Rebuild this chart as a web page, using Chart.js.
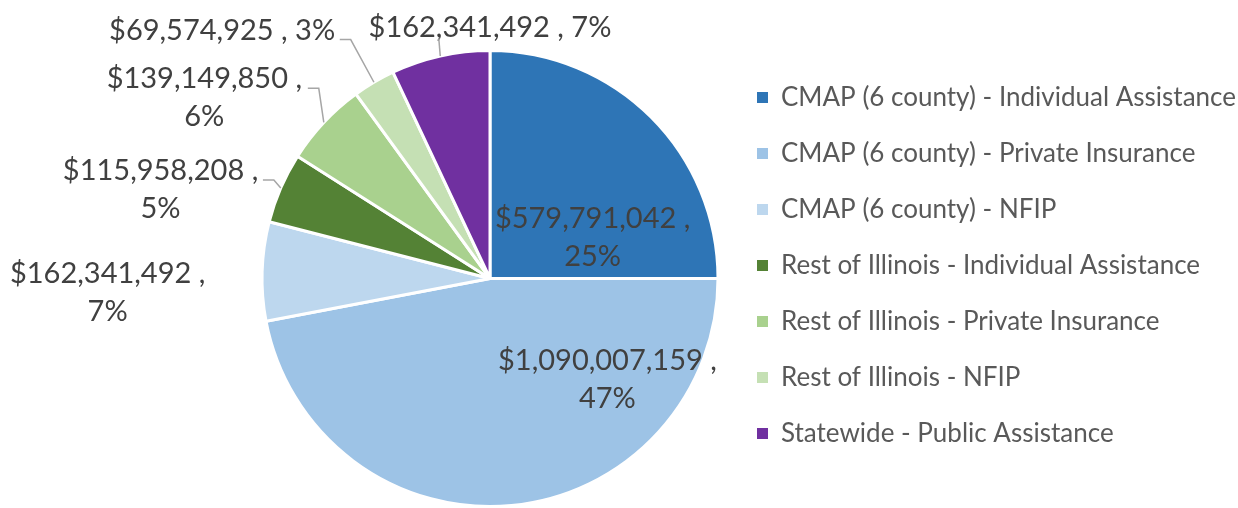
<!DOCTYPE html>
<html>
<head>
<meta charset="utf-8">
<script src="https://cdn.jsdelivr.net/npm/chart.js@4.4.1/dist/chart.umd.min.js"></script>
<style>
  html, body { margin: 0; padding: 0; background: #fff; }
  #contenedor { width: 1238px; height: 508px; position: relative; }
</style>
</head>
<body>
<div id="contenedor"><canvas id="myChartPie"></canvas></div>
<script>
// Datos del gráfico
const categorias = [
    'CMAP (6 county) - Individual Assistance',
    'CMAP (6 county) - Private Insurance',
    'CMAP (6 county) - NFIP',
    'Rest of Illinois - Individual Assistance',
    'Rest of Illinois - Private Insurance',
    'Rest of Illinois - NFIP',
    'Statewide - Public Assistance'
];
const montos = [579791042, 1090007159, 162341492, 115958208, 139149850, 69574925, 162341492];

// Estilo
const colores = ['#2E75B6', '#9DC3E6', '#BDD7EE', '#548235', '#A9D18E', '#C5E0B4', '#7030A0'];

// Ubicación de las etiquetas, en radios desde el centro del pie
const posEtiqueta = [[0.450, -0.179], [0.515, 0.445], [-1.677, 0.061], [-1.445, -0.389],
                     [-1.253, -0.793], [-1.175, -1.087], [0, -1.100]];
const partirEtiqueta = [true, true, true, true, true, false, false];
// Líneas guía (puntos después del borde del sector)
const guias = [null, null, null,
               [[-0.948, -0.432], [-0.996, -0.432]],
               [[-0.751, -0.834], [-0.799, -0.834]],
               [[-0.611, -1.048], [-0.659, -1.048]],
               [[-0.225, -1.057]]];

const fuente = 'Lato, "Open Sans", sans-serif';

document.addEventListener('DOMContentLoaded', function() {
    const canvasPie = document.getElementById('myChartPie');
    const total = montos.reduce((a, b) => a + b, 0);

    const pluginEtiquetas = {
        id: 'etiquetas',
        afterLayout(chart) {
            // sube un poco la leyenda y la deja llegar hasta el borde derecho
            const leyenda = chart.legend;
            leyenda.top -= 13;
            leyenda.bottom -= 13;
            leyenda.right = chart.width;
            leyenda.width = leyenda.right - leyenda.left;
        },
        afterDatasetsDraw(chart) {
            const ctx = chart.ctx;
            const meta = chart.getDatasetMeta(0);
            ctx.save();
            meta.data.forEach((arc, i) => {
                const p = arc.getProps(['x', 'y', 'outerRadius', 'startAngle', 'endAngle'], true);
                const r = p.outerRadius;
                const mid = (p.startAngle + p.endAngle) / 2;
                const pct = Math.round(montos[i] / total * 100) + '%';
                const monto = '$' + montos[i].toLocaleString('en-US');
                const lineas = partirEtiqueta[i] ? [monto + ' ,', pct] : [monto + ' , ' + pct];
                const cx = p.x + posEtiqueta[i][0] * r;
                const cy = p.y + posEtiqueta[i][1] * r;

                ctx.font = '29px ' + fuente;
                ctx.fillStyle = '#404040';
                ctx.textAlign = 'center';
                ctx.textBaseline = 'middle';
                lineas.forEach((t, k) => {
                    ctx.fillText(t, cx, cy + (k - (lineas.length - 1) / 2) * 38);
                });

                if (guias[i]) {
                    ctx.beginPath();
                    ctx.moveTo(p.x + Math.cos(mid) * r, p.y + Math.sin(mid) * r);
                    guias[i].forEach(q => ctx.lineTo(p.x + q[0] * r, p.y + q[1] * r));
                    ctx.strokeStyle = '#A6A6A6';
                    ctx.lineWidth = 1.5;
                    ctx.stroke();
                }
            });
            ctx.restore();
        }
    };

    new Chart(canvasPie.getContext('2d'), {
        type: 'pie',
        data: {
            labels: categorias,
            datasets: [{
                data: montos,
                backgroundColor: colores,
                borderColor: '#FFFFFF',
                borderWidth: 3,
                hoverOffset: 0
            }]
        },
        options: {
            responsive: true,
            maintainAspectRatio: false,
            animation: false,
            layout: { padding: { top: 49, bottom: 0, left: 253, right: 37 } },
            plugins: {
                tooltip: { enabled: false },
                legend: {
                    position: 'right',
                    align: 'center',
                    labels: {
                        boxWidth: 11,
                        boxHeight: 11,
                        padding: 30,
                        color: '#595959',
                        font: { size: 26, family: fuente },
                        generateLabels(chart) {
                            return categorias.map((c, i) => ({
                                text: c,
                                fillStyle: colores[i],
                                strokeStyle: colores[i],
                                lineWidth: 0,
                                fontColor: '#595959',
                                hidden: false,
                                index: i
                            }));
                        }
                    }
                }
            }
        },
        plugins: [pluginEtiquetas]
    });
});
</script>
</body>
</html>
